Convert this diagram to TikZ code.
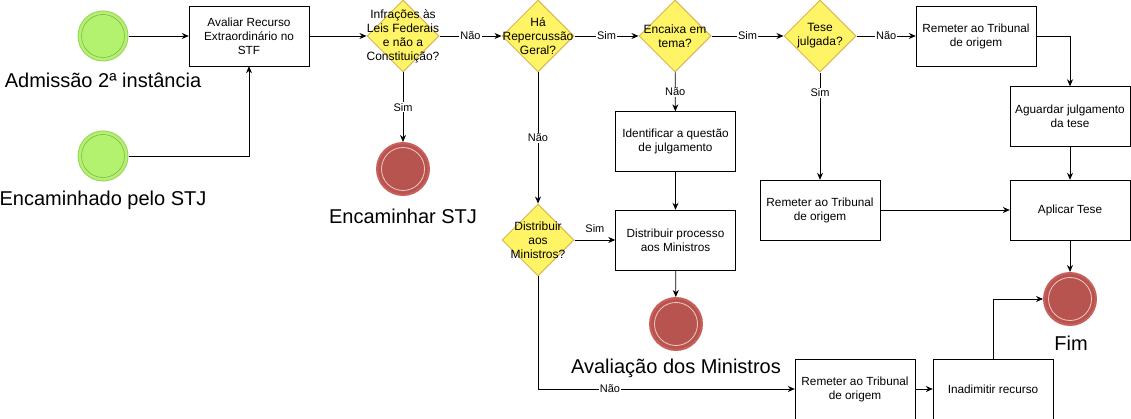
\documentclass[tikz,border=0pt]{standalone}
\usepackage{fontspec}
\setmainfont{Liberation Sans}
\usetikzlibrary{shapes.geometric,arrows.meta}
\definecolor{startfill}{HTML}{B3F26E}
\definecolor{startline}{HTML}{9DD65E}
\definecolor{endfill}{HTML}{B85450}
\definecolor{endline}{HTML}{C95F5A}
\definecolor{endring}{HTML}{F5C8C4}
\definecolor{decfill}{HTML}{FFF466}
\definecolor{decline}{HTML}{D6B656}
\tikzset{
  box/.style={draw=black, rectangle, minimum width=120pt, minimum height=60pt, inner sep=0pt, align=center, font=\fontsize{11.8}{14}\selectfont},
  dec/.style={draw=decline, fill=decfill, diamond, minimum width=72pt, minimum height=72pt, inner sep=0pt, line width=1pt},
  dectext/.style={align=center, font=\fontsize{12}{14}\selectfont, inner sep=0pt},
  startev/.style={circle, draw=startline, fill=startfill, minimum size=50pt, inner sep=0pt, line width=1pt},
  endev/.style={circle, draw=endline, fill=endfill, minimum size=52pt, inner sep=0pt, line width=2pt},
  biglabel/.style={font=\fontsize{20}{24}\selectfont, inner sep=0pt},
  lbl/.style={font=\fontsize{11}{13}\selectfont, fill=white, inner sep=1pt},
  conn/.style={draw=black, line width=0.8pt, -{Stealth[length=7pt,width=6pt]}}
}
\begin{document}
\begin{tikzpicture}[x=1pt,y=-1pt]
\useasboundingbox (0,0) rectangle (1131,419);
% start events
\node[startev] (s1) at (103,36) {};
\draw[startline!80!black, line width=0.5pt] (s1.center) circle[radius=21.5pt];
\node[biglabel] (s1t) at (103,80) {Admissão 2ª instância};
\node[startev] (s2) at (103,156) {};
\draw[startline!80!black, line width=0.5pt] (s2.center) circle[radius=21.5pt];
\node[biglabel] (s2t) at (103,200) {Encaminhado pelo STJ};
% boxes
\node[box] (b1) at (249,36) {Avaliar Recurso\\Extraordinário no\\STF};
\node[box] (r1) at (976,36) {Remeter ao Tribunal\\de origem};
\node[box] (ag) at (1070,116.5) {Aguardar julgamento\\da tese};
\node[box] (ap) at (1070,210) {Aplicar Tese};
\node[box] (r2) at (820,210) {Remeter ao Tribunal\\de origem};
\node[box] (id) at (675.5,141.5) {Identificar a questão\\de julgamento};
\node[box] (dp) at (675.5,240) {Distribuir processo\\aos Ministros};
\node[box] (r3) at (855,389) {Remeter ao Tribunal\\de origem};
\node[box] (in) at (993,389) {Inadimitir recurso};
% decisions
\node[dec] (d1) at (403,36) {};
\node[dectext] (d1t) at (403,36) {Infrações às\\Leis Federais\\e não a\\Constituição?};
\node[dec] (d2) at (538,36) {};
\node[dectext] (d2t) at (538,36) {Há\\Repercussão\\Geral?};
\node[dec] (d3) at (675,36) {};
\node[dectext] (d3t) at (675,36) {Encaixa em\\tema?};
\node[dec] (d4) at (820,36) {};
\node[dectext] (d4t) at (820,36) {Tese\\julgada?};
\node[dec] (d5) at (538,240) {};
\node[dectext] (d5t) at (538,240) {Distribuir\\aos\\Ministros?};
% end events
\node[endev] (e1) at (403,169) {};
\draw[endring, line width=0.8pt] (e1.center) circle[radius=21.5pt];
\node[biglabel] (e1t) at (403,216) {Encaminhar STJ};
\node[endev] (e2) at (676,324) {};
\draw[endring, line width=0.8pt] (e2.center) circle[radius=21.5pt];
\node[biglabel] (e2t) at (676,368) {Avaliação dos Ministros};
\node[endev] (fim) at (1070,299) {};
\draw[endring, line width=0.8pt] (fim.center) circle[radius=21.5pt];
\node[biglabel] (fimt) at (1071,343) {Fim};
% connectors
\draw[conn] (s1) -- (b1);
\draw[conn] (s2) -| (b1);
\draw[conn] (b1) -- (d1);
\draw[conn] (d1) -- node[lbl]{Não} (d2);
\draw[conn] (d1) -- node[lbl]{Sim} (e1);
\draw[conn] (d2) -- node[lbl]{Sim} (d3);
\draw[conn] (d3) -- node[lbl]{Sim} (d4);
\draw[conn] (d4) -- node[lbl]{Não} (r1);
\draw[conn] (d4) -- node[lbl, pos=0.19]{Sim} (r2);
\draw[conn] (r1) -| (ag);
\draw[conn] (ag) -- (ap);
\draw[conn] (ap) -- (fim);
\draw[conn] (r2) -- (ap);
\draw[conn] (d3) -- node[lbl]{Não} (id);
\draw[conn] (id) -- (dp);
\draw[conn] (dp) -- (e2);
\draw[conn] (d2) -- node[lbl]{Não} (d5);
\draw[conn] (d5) -- node[font=\fontsize{11}{13}\selectfont, above=4pt]{Sim} (dp);
\draw[conn] (d5.south) -- (d5.south |- r3.west) -- node[lbl, pos=0.28]{Não} (r3.west);
\draw[conn] (r3) -- (in);
\draw[conn] (in.north) |- (fim.west);
\end{tikzpicture}
\end{document}
